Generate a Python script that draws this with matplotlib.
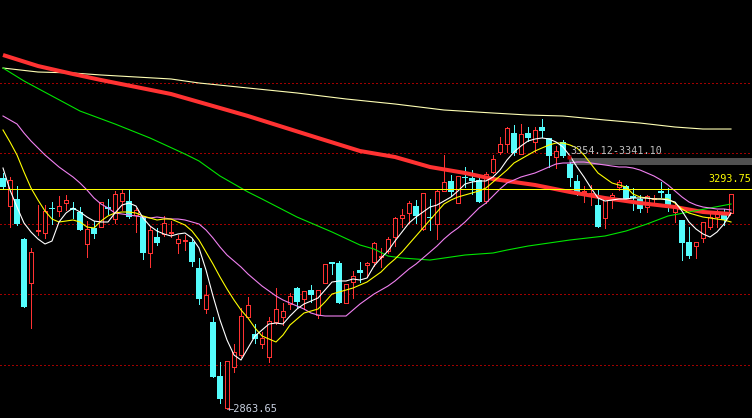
import numpy as np
import matplotlib
matplotlib.use("Agg")
import matplotlib.pyplot as plt

# daily candles
opens = [3315.2, 3261.2, 3274.3, 3195.6, 3109.8, 3212.8, 3208.5, 3256.7, 3251.4, 3267.0,
         3256.7, 3248.9, 3187.0, 3217.7, 3220.2, 3258.1, 3235.8, 3270.9, 3270.9, 3243.0,
         3239.7, 3168.3, 3199.5, 3205.4, 3208.5, 3187.8, 3192.7, 3190.9, 3140.2, 3059.1,
         3034.3, 2928.9, 2866.5, 2945.9, 2969.9, 3044.6, 3010.9, 2990.8, 2965.4, 3034.9,
         3044.6, 3069.4, 3100.0, 3078.6, 3096.1, 3047.9, 3109.8, 3151.0, 3148.8, 3070.8,
         3112.9, 3135.7, 3144.9, 3151.9, 3162.0, 3172.2, 3199.5, 3237.8, 3247.5, 3260.6,
         3215.7, 3239.7, 3225.5, 3290.4, 3309.4, 3267.0, 3317.2, 3315.2, 3311.3, 3270.3,
         3327.5, 3366.5, 3381.0, 3403.6, 3363.0, 3403.6, 3386.0, 3415.3, 3392.7, 3356.8,
         3384.9, 3341.9, 3309.4, 3287.9, 3284.0, 3262.5, 3237.8, 3279.1, 3296.7, 3299.6,
         3280.1, 3273.7, 3259.2, 3274.6, 3289.9, 3284.0, 3249.5, 3233.3, 3190.4, 3182.0,
         3197.6, 3219.6, 3238.5, 3247.9, 3246.3]
highs = [3325.0, 3317.8, 3300.2, 3198.7, 3178.7, 3262.5, 3262.5, 3267.8, 3280.1, 3282.1,
         3268.4, 3259.2, 3231.3, 3231.3, 3269.0, 3274.3, 3289.9, 3291.8, 3293.2, 3256.1,
         3240.5, 3220.2, 3217.1, 3241.7, 3231.9, 3204.0, 3204.0, 3195.6, 3159.7, 3106.5,
         3044.6, 2955.6, 2959.0, 2991.4, 3061.6, 3083.6, 3030.4, 3015.3, 3043.4, 3100.0,
         3070.8, 3090.3, 3103.1, 3095.5, 3106.5, 3096.5, 3147.8, 3152.0, 3153.9, 3108.2,
         3134.4, 3150.7, 3151.9, 3190.9, 3178.1, 3200.7, 3239.7, 3254.2, 3270.9, 3272.3,
         3286.5, 3273.7, 3291.8, 3360.1, 3321.1, 3319.7, 3336.1, 3330.8, 3314.6, 3327.5,
         3360.1, 3394.6, 3415.3, 3418.6, 3420.0, 3413.8, 3415.3, 3430.3, 3393.0, 3377.7,
         3389.4, 3347.0, 3321.1, 3299.6, 3301.6, 3291.8, 3277.9, 3285.4, 3311.3, 3301.6,
         3295.1, 3282.1, 3282.1, 3282.1, 3308.0, 3295.1, 3267.4, 3233.8, 3220.2, 3190.9,
         3230.0, 3246.3, 3252.8, 3253.8, 3283.8]
lows = [3293.8, 3220.2, 3224.0, 3063.0, 3023.2, 3204.0, 3197.6, 3225.5, 3241.1, 3252.8,
        3237.2, 3213.0, 3161.7, 3198.2, 3219.0, 3245.0, 3226.8, 3252.8, 3238.0, 3210.5,
        3157.2, 3142.2, 3184.5, 3202.1, 3200.7, 3168.3, 3174.8, 3144.1, 3069.4, 3051.3,
        2927.0, 2876.9, 2863.65, 2937.3, 2966.6, 3044.0, 2992.7, 2983.0, 2956.8, 3030.4,
        3028.4, 3059.6, 3063.0, 3059.6, 3072.7, 3042.7, 3109.5, 3127.9, 3071.5, 3070.5,
        3080.5, 3112.9, 3122.6, 3143.5, 3142.2, 3168.3, 3182.6, 3219.0, 3226.8, 3226.8,
        3213.8, 3213.8, 3196.2, 3290.0, 3280.1, 3265.9, 3298.3, 3284.0, 3268.5, 3265.9,
        3324.4, 3362.0, 3365.9, 3360.1, 3362.6, 3387.4, 3365.9, 3395.2, 3337.3, 3334.7,
        3356.8, 3300.2, 3282.1, 3268.9, 3262.5, 3219.5, 3218.0, 3256.1, 3291.8, 3270.3,
        3252.8, 3249.5, 3249.5, 3265.9, 3277.2, 3250.8, 3229.4, 3156.2, 3160.1, 3158.6,
        3191.3, 3215.7, 3219.9, 3223.5, 3246.0]
closes = [3297.7, 3311.3, 3225.5, 3064.1, 3170.8, 3214.7, 3251.4, 3254.7, 3260.6, 3272.3,
          3252.8, 3213.8, 3215.7, 3206.0, 3268.4, 3254.2, 3284.0, 3286.5, 3239.7, 3252.8,
          3169.5, 3213.8, 3189.0, 3228.0, 3210.5, 3195.6, 3193.7, 3151.9, 3079.2, 3087.0,
          2927.5, 2884.6, 2958.2, 2975.2, 3046.0, 3066.9, 3001.7, 3003.7, 3036.2, 3059.6,
          3055.8, 3085.0, 3073.9, 3094.8, 3087.0, 3096.1, 3147.4, 3147.5, 3071.9, 3107.8,
          3123.4, 3130.5, 3148.8, 3187.8, 3164.0, 3196.2, 3236.6, 3242.5, 3265.9, 3241.1,
          3286.0, 3236.6, 3289.9, 3307.4, 3288.5, 3318.5, 3315.2, 3310.0, 3268.9, 3322.4,
          3351.7, 3381.6, 3412.2, 3364.0, 3400.5, 3392.3, 3408.9, 3407.5, 3358.7, 3367.3,
          3358.7, 3315.8, 3285.4, 3289.9, 3286.0, 3220.0, 3277.6, 3281.1, 3307.4, 3275.2,
          3276.2, 3253.8, 3280.1, 3275.6, 3285.0, 3257.7, 3258.6, 3187.8, 3164.0, 3190.4,
          3228.8, 3238.2, 3246.3, 3233.3, 3283.4]

# short moving averages, one value per candle
ma5 = [3334.7, 3291.8, 3258.6, 3227.4, 3209.9, 3196.2, 3186.5, 3192.3, 3229.4, 3246.9,
       3256.7, 3248.9, 3239.1, 3231.3, 3229.4, 3229.4, 3246.9, 3262.5, 3266.4, 3260.6,
       3237.2, 3221.6, 3211.8, 3206.0, 3202.1, 3206.0, 3207.9, 3198.2, 3178.7, 3135.7,
       3085.0, 3038.2, 2999.2, 2969.9, 2960.1, 2983.6, 3007.0, 3018.7, 3030.4, 3032.3,
       3030.4, 3046.0, 3059.6, 3069.4, 3075.2, 3081.1, 3096.7, 3112.3, 3114.3, 3114.3,
       3118.2, 3116.2, 3120.1, 3143.5, 3159.1, 3172.8, 3192.3, 3209.9, 3227.4, 3239.1,
       3248.9, 3258.6, 3262.5, 3270.3, 3278.2, 3289.9, 3303.5, 3307.4, 3309.4, 3309.4,
       3317.2, 3330.8, 3350.3, 3365.9, 3377.7, 3387.4, 3391.3, 3393.3, 3391.3, 3385.5,
       3375.7, 3358.1, 3336.7, 3317.2, 3295.7, 3276.2, 3270.3, 3272.3, 3274.3, 3274.3,
       3276.2, 3276.2, 3276.2, 3274.3, 3274.3, 3272.3, 3268.4, 3250.8, 3229.4, 3215.7,
       3206.0, 3200.1, 3209.9, 3225.5, 3246.9]
ma10 = [3408.9, 3385.5, 3360.1, 3326.9, 3295.7, 3272.3, 3250.8, 3235.2, 3229.4, 3231.3,
        3233.3, 3229.4, 3219.6, 3217.7, 3231.3, 3241.1, 3246.9, 3248.9, 3248.9, 3246.9,
        3241.1, 3237.2, 3233.3, 3235.2, 3235.2, 3229.4, 3223.5, 3211.8, 3194.3, 3170.8,
        3147.4, 3122.1, 3098.7, 3077.2, 3057.7, 3042.1, 3022.6, 3007.0, 3001.1, 2995.3,
        3008.9, 3028.4, 3040.1, 3051.8, 3055.7, 3059.6, 3073.3, 3088.9, 3092.8, 3096.7,
        3100.6, 3106.5, 3112.3, 3122.1, 3131.8, 3145.5, 3157.2, 3170.8, 3186.5, 3202.1,
        3217.7, 3233.3, 3248.9, 3264.5, 3272.3, 3278.2, 3282.1, 3286.0, 3289.9, 3295.7,
        3307.4, 3319.1, 3330.8, 3344.5, 3352.3, 3360.1, 3367.9, 3373.8, 3379.6, 3383.5,
        3383.5, 3379.6, 3373.8, 3360.1, 3342.5, 3325.0, 3315.2, 3305.5, 3301.6, 3297.7,
        3284.0, 3278.2, 3276.2, 3274.3, 3274.3, 3274.3, 3266.4, 3254.7, 3246.9, 3243.0,
        3239.1, 3237.2, 3235.2, 3233.3, 3229.4]
ma20 = [3436.2, 3428.4, 3420.6, 3403.0, 3387.4, 3373.8, 3360.1, 3348.4, 3336.7, 3326.9,
        3317.2, 3305.5, 3291.8, 3276.2, 3264.5, 3256.7, 3246.9, 3245.0, 3243.0, 3241.1,
        3239.1, 3237.2, 3239.1, 3237.2, 3235.2, 3235.2, 3233.3, 3229.4, 3225.5, 3213.8,
        3198.2, 3180.6, 3165.0, 3153.3, 3141.6, 3127.9, 3116.2, 3104.5, 3094.8, 3085.0,
        3077.2, 3071.3, 3065.5, 3059.6, 3051.8, 3047.9, 3046.0, 3046.0, 3046.0, 3046.0,
        3057.7, 3069.4, 3079.2, 3088.9, 3096.7, 3104.5, 3114.3, 3126.0, 3137.7, 3147.4,
        3159.1, 3170.8, 3182.6, 3196.2, 3207.9, 3217.7, 3229.4, 3243.0, 3256.7, 3266.4,
        3280.1, 3293.8, 3305.5, 3311.3, 3317.2, 3321.1, 3325.0, 3330.8, 3336.7, 3342.5,
        3344.5, 3344.5, 3346.4, 3346.4, 3344.5, 3342.5, 3340.6, 3338.6, 3336.7, 3336.7,
        3334.7, 3330.8, 3325.0, 3319.1, 3311.3, 3301.6, 3289.9, 3278.2, 3268.4, 3262.5,
        3258.6, 3256.7, 3254.7, 3254.7, 3252.8]

# long moving averages, read at some candles
ma60_idx = [0, 3, 7, 11, 16, 21, 26, 28, 31, 35, 37, 42, 47, 51, 53, 55, 57, 61, 63, 66,
            70, 72, 75, 78, 81, 86, 89, 92, 95, 98, 101, 104]
ma60 = [3529.8, 3504.5, 3475.2, 3445.9, 3420.6, 3393.3, 3362.0, 3348.4, 3319.1, 3287.9,
        3274.3, 3239.1, 3209.9, 3184.5, 3176.7, 3163.0, 3159.1, 3155.2, 3159.1, 3165.0,
        3168.9, 3174.7, 3182.5, 3188.4, 3194.3, 3202.1, 3211.8, 3225.5, 3241.1, 3248.9,
        3256.7, 3264.5]
ma120_idx = [0, 5, 10, 14, 19, 24, 28, 35, 40, 45, 51, 56, 61, 66, 70, 76, 81, 86, 91, 96,
             100, 104]
ma120 = [3555.2, 3533.7, 3518.1, 3506.4, 3492.8, 3479.1, 3463.5, 3436.2, 3414.7, 3393.3,
         3367.9, 3356.2, 3336.7, 3325.0, 3313.3, 3301.6, 3287.9, 3276.2, 3266.4, 3258.6,
         3248.9, 3245.0]
ma250_idx = [0, 5, 10, 14, 19, 24, 28, 35, 42, 49, 56, 63, 70, 75, 80, 86, 91, 96, 100, 104]
ma250 = [3529.8, 3522.0, 3520.1, 3516.2, 3512.3, 3508.4, 3500.6, 3490.8, 3481.1, 3469.4,
         3459.6, 3447.9, 3442.0, 3438.1, 3436.2, 3428.4, 3422.5, 3414.7, 3410.8, 3410.8]

grid_levels = [3500.6, 3364.0, 3225.5, 3088.9, 2950.4]
line_level = 3293.75
zone_hi, zone_lo = 3354.12, 3341.10
low_price = 2863.65
low_idx = 32
zone_idx = 81

RED = "#ff3232"
CYAN = "#54fcfc"

o = np.array(opens)
h = np.array(highs)
l = np.array(lows)
c = np.array(closes)
x = np.arange(len(o))
up = c >= o
dn = ~up

fig = plt.figure(figsize=(7.52, 4.18), dpi=100, facecolor="black")
ax = fig.add_axes([0, 0, 1, 1])
ax.set_facecolor("black")
ax.set_xlim(-3 / 7, 749 / 7)
ax.set_ylim(2847.0, 3662.5)
ax.axis("off")

for g in grid_levels:
    ax.axhline(g, color="#a00000", lw=0.6, dashes=(1.6, 3.2), zorder=1, antialiased=False)

# zone band and its label
ax.axhspan(zone_lo, zone_hi, xmin=569 / 752, xmax=1, color="#505050", lw=0, zorder=1)
ax.plot([zone_idx - 0.15], [zone_hi + 2], marker="s", ms=2.5, color="#b00000",
        mec="none", zorder=6)
ax.text(zone_idx + 0.05, zone_hi + 13, f"{zone_hi:.2f}-{zone_lo:.2f}", color="#c0c0c0",
        family="DejaVu Sans Mono", fontsize=7.3, va="center", ha="left", zorder=7)

# candles: hollow red for up days, filled cyan for down days
ax.vlines(x[up], l[up], o[up], color=RED, lw=0.6, zorder=3, antialiased=False)
ax.vlines(x[up], c[up], h[up], color=RED, lw=0.6, zorder=3, antialiased=False)
ax.bar(x[up], c[up] - o[up], bottom=o[up], width=0.62, facecolor="black",
       edgecolor=RED, linewidth=0.6, zorder=3, antialiased=False)
ax.vlines(x[dn], l[dn], h[dn], color=CYAN, lw=0.6, zorder=3, antialiased=False)
ax.bar(x[dn], o[dn] - c[dn], bottom=c[dn], width=0.72, color=CYAN, lw=0, zorder=3,
       antialiased=False)

# moving averages
ax.plot(ma250_idx, ma250, color="#ffffb4", lw=0.8, zorder=4)
ax.plot(ma120_idx, ma120, color=RED, lw=2.9, zorder=4, solid_capstyle="butt")
ax.plot(ma60_idx, ma60, color="#00e600", lw=0.8, zorder=5)
ax.plot(x, ma20, color="#f080f0", lw=0.8, zorder=5)
ax.plot(x, ma10, color="#ffff00", lw=0.8, zorder=5)
ax.plot(x, ma5, color="white", lw=0.8, zorder=5)

# current level line
ax.axhline(line_level, color="#ffff00", lw=0.6, zorder=5, antialiased=False)
ax.text(749 / 7 - 0.05, line_level + 19, f"{line_level:.2f}", color="#ffff00",
        family="DejaVu Sans Mono", fontsize=7.3, va="center", ha="right", zorder=7)

# low marker
ax.text(low_idx + 0.05, low_price, f"\u2190{low_price:.2f}", color="#c8d0e0",
        family="DejaVu Sans Mono", fontsize=7.5, va="center", ha="left", zorder=7)

fig.savefig("out.png", dpi=100, facecolor="black")
